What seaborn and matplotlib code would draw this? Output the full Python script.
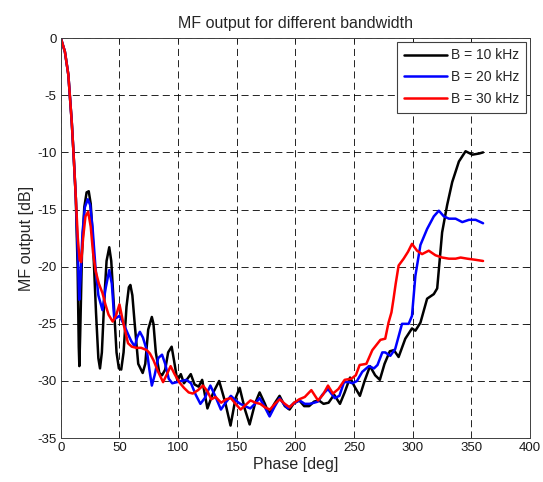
import numpy as np
import pandas as pd
import matplotlib
matplotlib.use("Agg")
import matplotlib.pyplot as plt
import seaborn as sns

# data (phase in deg, MF output in dB)
b10_phase = [0, 3.5, 6.4, 9.3, 10.8, 12.8, 14.3, 15.3, 15.8, 16.5, 18, 20, 22, 23.8, 25.5, 27.5, 30, 32, 33.4, 35,
             37, 39, 41.3, 43, 45, 47.5, 49.5, 51.5, 53.5, 56, 58, 59.3, 61, 63, 66, 69.8, 72, 74.5, 77.6, 79,
             81, 84, 86.3, 89, 91.5, 94.5, 96.5, 99.4, 102.3, 105, 108, 110.8, 114, 117.5, 120.5, 125, 130, 135, 140, 144.7,
             149, 152.5, 157, 161, 165.5, 169.5, 174, 177.5, 182, 186.5, 191, 195, 199, 203.3, 207.5, 211.7, 216, 220, 224, 228.3,
             233, 238, 242, 246.6, 250.5, 255, 259, 263.6, 268, 272, 276, 280.5, 284, 288, 293.7, 299.4, 302.3, 306.6, 312.3, 318,
             320.9, 325.1, 329.4, 333.7, 339.4, 345.1, 350.9, 356.6, 360]
b10_db = [0, -1.2, -3.2, -7.3, -10, -14, -20, -27, -28.7, -26, -19, -14.8, -13.5, -13.4, -14.5, -18, -24, -28, -28.9, -27.5,
          -23, -19.5, -18.3, -19.5, -23, -27.5, -28.9, -29, -27.5, -23.5, -21.8, -21.6, -22.5, -25, -28.5, -29.3, -28.5, -25.5, -24.4, -25,
          -27.5, -29.3, -29.5, -29, -27.5, -27, -28.2, -30, -29.4, -30.2, -29.8, -29.4, -30.3, -30.5, -29.9, -32.4, -31, -30, -31.8, -33.9,
          -31.5, -30.6, -32.5, -33.8, -32, -31, -32, -32.9, -32, -31.3, -32.2, -32.5, -31.9, -31.7, -32.2, -32.2, -31.8, -31.7, -32, -31.9,
          -31.2, -32, -31, -29.7, -30.5, -31.3, -30, -28.7, -29.5, -29.9, -28.5, -27.4, -27.3, -27.9, -26.3, -25.4, -25.6, -24.9, -22.8, -22.4,
          -21.9, -17, -14.6, -12.6, -10.8, -9.9, -10.2, -10.1, -10]

b20_phase = [0, 3.5, 6.4, 9.3, 10.8, 12.8, 14.5, 15.7, 16.8, 18.5, 20.5, 23, 25, 27, 29.5, 32, 35.5, 38, 41.3, 43.5,
             45.6, 50, 53.5, 57.3, 60, 63.1, 65, 67.4, 70, 73.3, 75.5, 77.6, 80, 83, 86.3, 89, 92, 95, 99, 103,
             107, 111, 115, 119, 122.7, 127.5, 132, 136.5, 140.5, 145, 149, 153, 157, 161.5, 165.5, 169.5, 173.5, 178, 182, 186.5,
             190, 193.7, 198, 203.5, 208, 212, 216, 219.3, 223, 227.8, 233.5, 237.5, 241.5, 245.8, 248.6, 252.5, 257, 262.7, 267, 270,
             274.1, 276.6, 280.9, 285.1, 290.9, 296.6, 299.4, 302.3, 306.6, 312.3, 318, 322.3, 326.6, 330.9, 336.6, 342.3, 348, 353.7, 360]
b20_db = [0, -1.2, -3.2, -7.3, -10, -14, -19, -22.9, -21, -17, -14.8, -14.1, -14.6, -16.5, -20, -22.5, -23.8, -22, -20.3, -21.5,
          -24.6, -24.3, -25, -25.9, -26.5, -27, -26.2, -25.7, -26.2, -27.3, -29, -30.4, -29.5, -28, -27.7, -28.5, -29.8, -30.2, -30.1, -30.0,
          -29.9, -30.2, -31.2, -32, -31.5, -30.4, -31.4, -32.5, -31.9, -31.3, -31.7, -32, -32.2, -32.4, -32, -31.5, -32.2, -33.1, -32.3, -31.5,
          -32, -32.4, -32, -31.7, -32, -32, -31.9, -31.8, -31.2, -30.7, -31.5, -31.3, -30.1, -30.1, -30.2, -30, -29.2, -28.7, -28.9, -28.6,
          -27.5, -27.5, -27.8, -27.2, -25, -25, -24.3, -20.8, -18.1, -16.7, -15.6, -15.1, -15.6, -15.8, -15.8, -16.1, -15.9, -15.9, -16.2]

b30_phase = [0, 3.5, 6.4, 9.3, 10.8, 12.8, 14.5, 16, 17.4, 19, 21, 23.3, 25.5, 27.5, 29.7, 32.5, 35.5, 38, 40.7, 44.2,
             47, 50, 53, 57.3, 60.5, 64.5, 68.5, 73.3, 76, 79.1, 83, 87.2, 90.5, 93.6, 97, 100.9, 105, 109, 112.5, 117,
             121.2, 125, 128.3, 132, 136.7, 141, 145, 149, 153.3, 157.5, 161.7, 166, 170, 174, 178.3, 182.5, 186.7, 191, 195, 199,
             203.3, 208, 213.6, 219.3, 223.5, 227.8, 232, 236.7, 242, 247.7, 251.5, 254.8, 260.5, 265.6, 272.5, 276.6, 279.4, 281.9, 283.7, 285.5,
             288, 292.3, 296, 299.4, 303.7, 308, 313.7, 319.4, 325.1, 330.9, 336.6, 340.9, 346.6, 353.7, 360]
b30_db = [0, -1.2, -3.2, -7.3, -10, -14, -17.5, -19.4, -19.6, -17.5, -15.6, -15.2, -16.5, -18.8, -20.4, -21.5, -22.3, -23.3, -24.2, -24.8,
          -24.3, -23.3, -24.8, -26.7, -27, -27.1, -27.1, -27.3, -27.6, -28.2, -29.2, -30.1, -29.4, -28.7, -29.4, -30.1, -30.6, -31, -31.1, -30.8,
          -30.4, -30.9, -31.6, -31.4, -31.9, -31.6, -31.5, -32, -32.5, -32.1, -31.7, -31.9, -32, -32.3, -32.5, -32, -31.6, -32, -32.3, -31.9,
          -31.6, -31.4, -30.8, -31.7, -31.2, -30.4, -31.1, -30.7, -29.9, -29.8, -29.5, -28.6, -28.5, -27.3, -26.4, -26.3, -24.9, -24, -22.8, -21.5,
          -19.9, -19.3, -18.7, -18, -18.6, -18.9, -18.6, -19, -19.2, -19.3, -19.3, -19.2, -19.3, -19.4, -19.5]

labels = ['B = 10 kHz', 'B = 20 kHz', 'B = 30 kHz']
colors = ['#000000', '#0000ff', '#ff0000']
x_ticks = [0, 50, 100, 150, 200, 250, 300, 350, 400]
y_ticks = [0, -5, -10, -15, -20, -25, -30, -35]

frames = []
for lab, xs, ys in zip(labels, [b10_phase, b20_phase, b30_phase], [b10_db, b20_db, b30_db]):
    assert len(xs) == len(ys), lab
    frames.append(pd.DataFrame({'phase': xs, 'db': ys, 'B': lab}))
df = pd.concat(frames, ignore_index=True)

sns.set_style('white')
plt.rcParams['font.family'] = ['Liberation Sans', 'DejaVu Sans']
plt.rcParams['axes.unicode_minus'] = False

fig = plt.figure(figsize=(5.43, 4.82), dpi=100)
ax = fig.add_axes([0.112, 0.091, 0.864, 0.830])

sns.lineplot(data=df, x='phase', y='db', hue='B', hue_order=labels,
             palette=dict(zip(labels, colors)), estimator=None, sort=False,
             linewidth=1.8, ax=ax)
for ln in ax.get_lines():
    ln.set_solid_joinstyle('round')
    ln.set_solid_capstyle('round')

ax.set_xlim(0, 400)
ax.set_ylim(-35, 0)
ax.set_xticks(x_ticks)
ax.set_yticks(y_ticks)
ax.grid(True, color='black', linestyle=(0, (8.5, 5)), linewidth=0.6)
ax.tick_params(direction='in', top=True, right=True, length=3, width=0.6,
               labelsize=9.5, colors='0.1', pad=3)
for sp in ax.spines.values():
    sp.set_color('0.25')
    sp.set_linewidth(0.7)

ax.set_xlabel('Phase [deg]', fontsize=11.5, labelpad=2)
ax.set_ylabel('MF output [dB]', fontsize=11.5, labelpad=2)
ax.set_title('MF output for different bandwidth', fontsize=11.5, pad=7)

leg = ax.legend(loc='upper right', fontsize=10, frameon=True, fancybox=False,
                edgecolor='0.25', framealpha=1, handlelength=3.1,
                borderaxespad=0.25, labelspacing=0.55, handletextpad=0.3,
                borderpad=0.5)
leg.get_frame().set_linewidth(0.8)

fig.savefig('out.png', dpi=100)
